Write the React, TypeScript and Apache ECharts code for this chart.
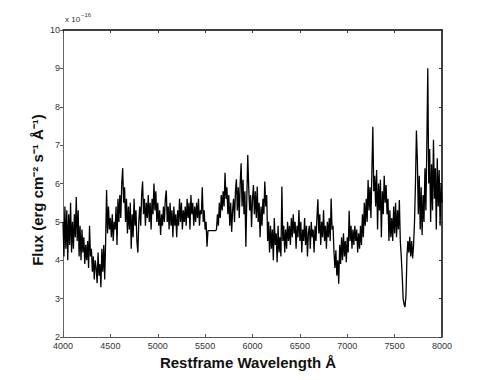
import React, { useEffect, useRef } from "react";
import * as echarts from "echarts";

const WAVE_START = 4000;
const WAVE_STEP = 10;
const xTicks = [4000, 4500, 5000, 5500, 6000, 6500, 7000, 7500, 8000];
const yTicks = [2, 3, 4, 5, 6, 7, 8, 9, 10];

// flux in units of 1e-16 erg cm^-2 s^-1 A^-1, sampled every 10 A from 4000 A
const flux = [
  5.0, 4.1, 5.4, 4.3, 5.3, 4.0, 5.2, 4.4, 5.5, 4.2,
  5.0, 4.3, 5.2, 4.6, 5.65, 4.5, 5.3, 4.1, 4.9, 4.0,
  4.8, 4.2, 4.6, 3.9, 4.4, 4.0, 4.5, 3.8, 4.9, 4.1,
  4.3, 3.7, 4.1, 3.5, 4.0, 3.8, 3.4, 4.2, 3.6, 3.9,
  3.3, 4.3, 3.7, 4.4, 3.5, 4.5, 5.83, 4.7, 5.4, 4.8,
  5.1, 4.6, 5.2, 4.5, 5.0, 4.8, 5.4, 4.4, 5.6, 5.0,
  5.7, 5.1, 6.0, 6.4, 5.5, 5.9, 5.0, 5.6, 4.7, 5.4,
  4.8, 5.5, 4.3, 5.2, 4.6, 5.6, 4.9, 5.3, 4.5, 4.2,
  5.0, 5.4, 4.9, 5.7, 6.05, 5.2, 5.6, 4.9, 5.5, 5.1,
  5.7, 5.0, 5.5, 4.8, 5.6, 5.2, 6.0, 5.3, 5.8, 5.0,
  5.5, 4.9, 5.3, 4.66, 5.2, 4.9, 5.4, 5.0, 5.6, 5.82,
  5.0, 5.4, 4.8, 5.5, 4.9, 5.3, 4.6, 5.4, 4.9, 5.2,
  4.6, 5.3, 4.9, 5.6, 5.0, 5.5, 4.8, 5.3, 5.0, 5.4,
  4.9, 5.6, 5.1, 5.5, 4.8, 5.7, 5.2, 5.5, 4.9, 5.4,
  5.0, 5.5, 5.1, 5.6, 4.9, 5.3, 5.2, 5.9, 5.0, 5.3,
  4.8, 5.0, 4.35, 4.77, 4.77, 4.77, 4.77, 4.77, 4.77, 4.77,
  4.77, 4.77, 4.8, 5.2, 4.9, 5.5, 5.1, 5.7, 5.3, 5.8,
  5.4, 6.28, 5.6, 5.9, 5.2, 5.7, 4.9, 5.5, 4.74, 5.3,
  5.6, 5.0, 5.8, 6.11, 5.3, 5.9, 5.1, 6.0, 6.53, 5.4,
  6.1, 5.2, 5.8, 4.35, 5.6, 6.74, 5.9, 5.3, 5.7, 4.87,
  5.6, 5.96, 5.2, 5.8, 5.1, 5.92, 5.0, 5.5, 4.6, 5.4,
  4.9, 5.6, 5.2, 6.05, 5.4, 5.7, 4.5, 5.0, 4.2, 4.9,
  4.3, 4.8, 4.0, 5.1, 4.4, 4.7, 3.95, 4.9, 4.2, 4.6,
  4.1, 5.92, 4.5, 4.9, 4.2, 4.8, 4.3, 5.0, 4.5, 4.9,
  4.4, 5.1, 4.6, 5.2, 4.7, 5.0, 4.3, 4.9, 4.6, 5.31,
  4.5, 5.0, 4.2, 4.8, 4.5, 5.1, 4.4, 4.9, 4.1, 4.7,
  4.9, 4.3, 5.0, 4.6, 4.8, 4.2, 4.9, 4.5, 5.1, 5.59,
  4.7, 5.2, 4.4, 5.0, 4.6, 5.3, 4.5, 4.9, 4.3, 5.0,
  4.6, 5.1, 4.5, 5.61, 4.8, 4.9, 4.2, 3.8, 4.26, 3.6,
  4.0, 3.39, 4.4, 3.9, 4.6, 4.0, 4.7, 4.1, 4.5, 3.95,
  4.6, 4.2, 5.29, 4.5, 4.9, 4.3, 4.8, 4.4, 4.9, 4.5,
  4.8, 4.2, 4.7, 4.3, 4.9, 4.4, 5.2, 4.6, 5.5, 4.9,
  5.6, 5.0, 6.09, 5.3, 5.9, 5.1, 6.3, 7.48, 5.8, 6.2,
  5.4, 6.35, 4.8, 6.0, 5.3, 6.1, 4.6, 5.8, 5.2, 6.2,
  5.5, 5.96, 5.2, 5.6, 4.5, 5.3, 4.6, 5.1, 4.5, 5.4,
  4.7, 5.5, 4.6, 5.3, 4.8, 5.57, 4.5, 4.1, 3.6, 3.0,
  2.85, 2.78, 3.1, 4.1, 4.5, 4.2, 4.61, 4.1, 4.5, 4.05,
  4.4, 5.0, 6.0, 7.38, 6.6, 5.2, 6.2, 4.8, 5.9, 4.66,
  5.7, 5.0, 6.4, 5.3, 7.0, 9.0, 6.0, 6.9, 5.0, 6.5,
  5.3, 7.14, 5.6, 6.4, 4.8, 6.66, 5.4, 6.35, 4.9, 6.0,
  5.5,
];

const FONT = "Liberation Sans, Arial, Helvetica, sans-serif";

export default function App() {
  const ref = useRef<HTMLDivElement>(null);
  useEffect(() => {
    if (!ref.current) return;
    const chart = echarts.init(ref.current, null, { renderer: "svg" });
    const data = flux.map((v, i) => [WAVE_START + i * WAVE_STEP, v]);
    const labelStyle = {
      color: "#333",
      fontSize: 9,
      fontFamily: FONT,
      formatter: (v: number) => String(v),
    };
    chart.setOption({
      animation: false,
      backgroundColor: "#fff",
      grid: { left: 63, right: 49, top: 30, bottom: 43, containLabel: false },
      xAxis: [
        {
          type: "value",
          min: xTicks[0],
          max: xTicks[xTicks.length - 1],
          interval: 500,
          position: "bottom",
          axisLine: { show: true, lineStyle: { color: "#555", width: 1 } },
          axisTick: { show: true, inside: true, length: 3, lineStyle: { color: "#555" } },
          axisLabel: { ...labelStyle, margin: 4 },
          splitLine: { show: false },
        },
        {
          type: "value",
          min: xTicks[0],
          max: xTicks[xTicks.length - 1],
          interval: 500,
          position: "top",
          axisLine: { show: true, onZero: false, lineStyle: { color: "#000", width: 1.5 } },
          axisTick: { show: true, inside: true, length: 3, lineStyle: { color: "#333" } },
          axisLabel: { show: false },
          splitLine: { show: false },
        },
      ],
      yAxis: [
        {
          type: "value",
          min: yTicks[0],
          max: yTicks[yTicks.length - 1],
          interval: 1,
          position: "left",
          axisLine: { show: true, onZero: false, lineStyle: { color: "#666", width: 1 } },
          axisTick: { show: true, inside: false, length: 3, lineStyle: { color: "#555" } },
          axisLabel: { ...labelStyle, margin: 3 },
          splitLine: { show: false },
        },
        {
          type: "value",
          min: yTicks[0],
          max: yTicks[yTicks.length - 1],
          interval: 1,
          position: "right",
          axisLine: { show: true, onZero: false, lineStyle: { color: "#000", width: 1.5 } },
          axisTick: { show: true, inside: true, length: 3, lineStyle: { color: "#333" } },
          axisLabel: { show: false },
          splitLine: { show: false },
        },
      ],
      series: [
        {
          type: "line",
          data,
          xAxisIndex: 0,
          yAxisIndex: 0,
          showSymbol: false,
          symbol: "none",
          lineStyle: { color: "#000", width: 1.3 },
          silent: true,
        },
      ],
      graphic: [
        {
          type: "text",
          x: 65,
          y: 19,
          style: { text: "x 10", fill: "#333", fontSize: 8, fontFamily: FONT, textVerticalAlign: "middle" },
        },
        {
          type: "text",
          x: 81,
          y: 15,
          style: { text: "\u221216", fill: "#333", fontSize: 6, fontFamily: FONT, textVerticalAlign: "middle" },
        },
        {
          type: "text",
          x: 248,
          y: 362,
          style: {
            text: "Restframe Wavelength \u00C5",
            fill: "#111",
            fontSize: 15,
            fontWeight: "bold",
            fontFamily: FONT,
            textAlign: "center",
            textVerticalAlign: "middle",
          },
        },
        {
          type: "text",
          x: 37,
          y: 190,
          rotation: Math.PI / 2,
          style: {
            text: "Flux (erg cm\u207B\u00B2 s\u207B\u00B9 \u00C5\u207B\u00B9)",
            fill: "#111",
            fontSize: 15,
            fontWeight: "bold",
            fontFamily: FONT,
            textAlign: "center",
            textVerticalAlign: "middle",
          },
        },
      ],
    });
    return () => chart.dispose();
  }, []);
  return (
    <div
      ref={ref}
      style={{ position: "fixed", left: 0, top: 0, width: 491, height: 380, background: "#fff" }}
    />
  );
}
